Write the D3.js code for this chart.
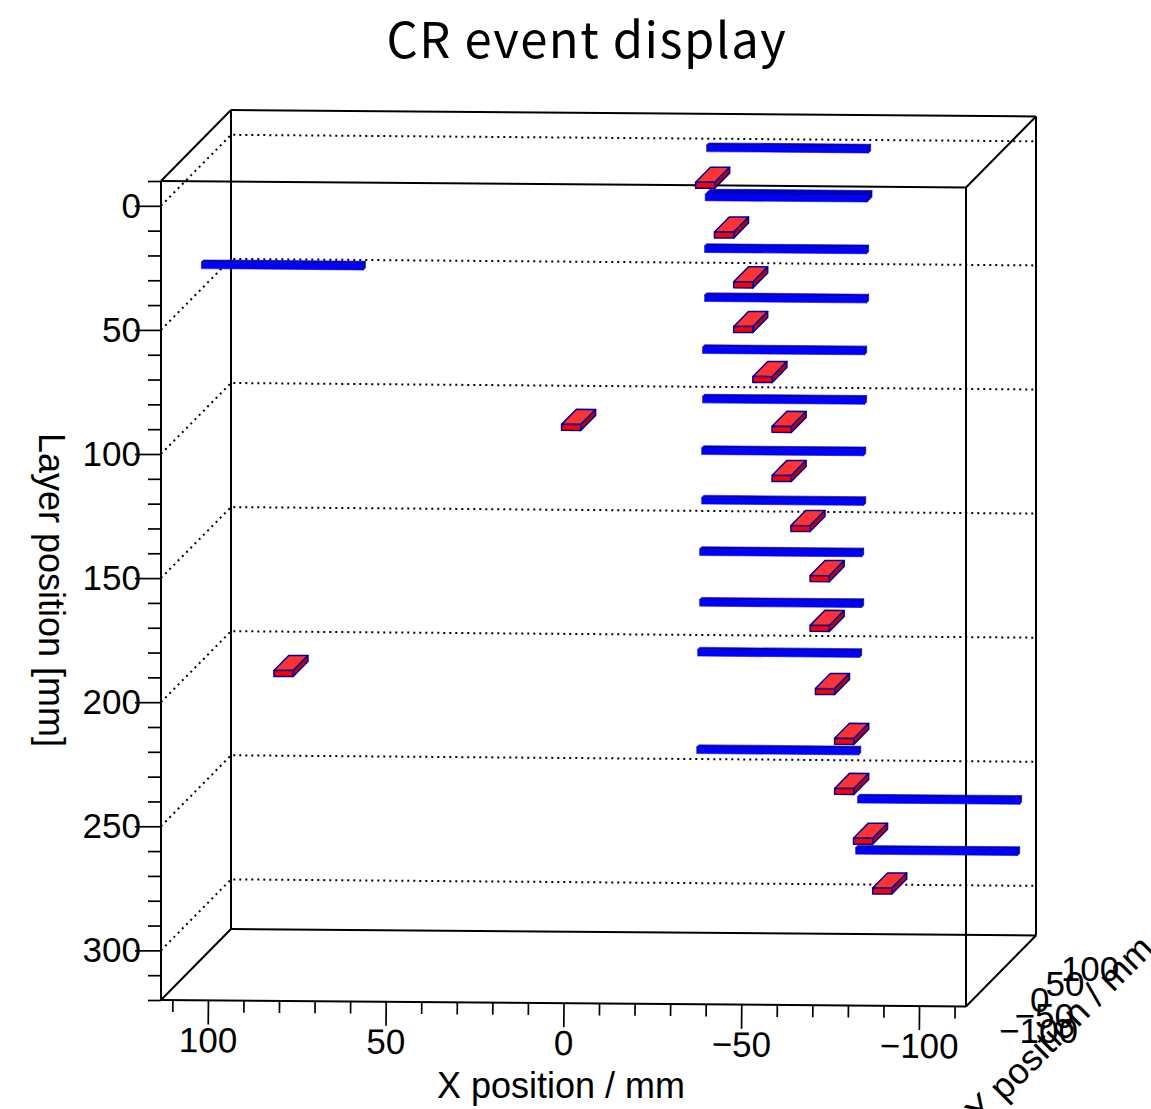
<!DOCTYPE html>
<html>
<head>
<meta charset="utf-8">
<script src="https://cdn.jsdelivr.net/npm/d3@7"></script>
<style>
    body { margin: 0; background: #fff; overflow: hidden; }
    svg { display: block; }
    text { font-family: "Liberation Sans", sans-serif; fill: #000; }
</style>
</head>
<body>
<div class="chart"></div>
<script>
// blue strips (mm)
var blueX = [-46, -46, -46, -46, -46, -46, -46, -46, -46, -46, -46, -46, -92, -92, 92];
var blueY = [86, 86, 79.5, 79.5, 73, 73, 70, 70, 63.5, 63.5, 57, 54, 45.3, 39, 39];
var blueZ = [0, 19.2, 39.8, 59.6, 79.7, 99.6, 120, 140, 159.9, 180.3, 199.6, 238.5, 256.8, 276.6, 42.8];
var blueDepth = [7, 16, 7, 7, 7, 7, 7, 7, 7, 7, 7, 7, 7, 7, 7];

// red strips
var redX = [-26.1, -31.4, -36.8, -36.8, -42.2, -47.6, -47.6, -52.9, -58.3, -58.3, -59.8, -65.2, -65.2, -70.5, -75.9, 11.6, 92.5];
var redY = [69, 69, 69, 69, 69, 69, 69, 69, 69, 69, 69, 69, 69, 69, 69, 69, 69];
var redZ = [10.1, 30.1, 50.1, 68.1, 88.2, 108.2, 128, 148.1, 168.2, 188.3, 213.7, 233.7, 253.9, 273.9, 293.9, 108.1, 208.2];

var xDomain = [113.2, -113.2];
var yDomain = [-113.2, 113.2];
var zDomain = [-10, 320];

var xTicks = [100, 50, 0, -50, -100];
var yTicks = [-100, -50, 0, 50, 100];
var zTicks = [0, 50, 100, 150, 200, 250, 300];

var svgWidth = 1151;
var svgHeight = 1109;

var origin = { x: 161, y: 181 };
var boxWidth = 805;
var boxHeight = 819;
var depthX = 70;
var depthY = -71;
var tiltY = 6.5;

var xScale = d3.scaleLinear().domain(xDomain).range([0, boxWidth]);
var yScale = d3.scaleLinear().domain(yDomain).range([0, 1]);
var zScale = d3.scaleLinear().domain(zDomain).range([0, boxHeight]);

function project(x, y, z) {
    var sx = xScale(x);
    var sy = yScale(y);
    return [
        origin.x + sx + depthX * sy,
        origin.y + sx / boxWidth * tiltY + depthY * sy + zScale(z)
    ];
}

var svg = d3.select(".chart")
    .append("svg")
    .attr("width", svgWidth)
    .attr("height", svgHeight);

// dotted grid on the back and left walls
var grid = svg.append("g");
var xL = xDomain[0], xR = xDomain[1], yF = yDomain[0], yB = yDomain[1], zT = zDomain[0], zB = zDomain[1];

var line = d3.line();

zTicks.forEach(function(z) {
    grid.append("path")
        .attr("d", line([project(xL, yF, z), project(xL, yB, z), project(xR, yB, z)]))
        .attr("fill", "none")
        .attr("stroke", "#000")
        .attr("stroke-width", 2)
        .attr("stroke-dasharray", "2 4");
});

// box frame
var edges = [
    [[xL, yF, zT], [xR, yF, zT]],
    [[xL, yF, zB], [xR, yF, zB]],
    [[xL, yB, zT], [xR, yB, zT]],
    [[xL, yB, zB], [xR, yB, zB]],
    [[xL, yF, zT], [xL, yF, zB]],
    [[xR, yF, zT], [xR, yF, zB]],
    [[xL, yB, zT], [xL, yB, zB]],
    [[xR, yB, zT], [xR, yB, zB]],
    [[xL, yF, zT], [xL, yB, zT]],
    [[xR, yF, zT], [xR, yB, zT]],
    [[xL, yF, zB], [xL, yB, zB]],
    [[xR, yF, zB], [xR, yB, zB]]
];

svg.append("g").selectAll("path")
    .data(edges)
    .enter()
    .append("path")
    .attr("d", function(e) {
        return line(e.map(function(p) { return project(p[0], p[1], p[2]); }));
    })
    .attr("fill", "none")
    .attr("stroke", "#000")
    .attr("stroke-width", 2);

// x axis along the front bottom edge, slightly tilted
var tiltAngle = Math.atan(tiltY / boxWidth) * 180 / Math.PI;
var xOrigin = project(xL, yF, zB);

var xMinor = d3.axisBottom(xScale)
    .tickValues(d3.range(-110, 111, 10).filter(function(d) { return d % 50 !== 0; }))
    .tickSize(12)
    .tickFormat("");
var xMajor = d3.axisBottom(xScale)
    .tickValues(xTicks)
    .tickSize(24)
    .tickPadding(3);

[xMinor, xMajor].forEach(function(axis) {
    svg.append("g")
        .attr("class", "axis")
        .attr("transform", "translate(" + xOrigin[0] + "," + xOrigin[1] + ") rotate(" + tiltAngle + ")")
        .call(axis);
});

// layer axis on the front left edge
var zMinor = d3.axisLeft(zScale)
    .tickValues(d3.range(-10, 321, 10).filter(function(d) { return d % 50 !== 0; }))
    .tickSize(13)
    .tickFormat("");
var zMajor = d3.axisLeft(zScale)
    .tickValues(zTicks)
    .tickSize(26)
    .tickPadding(-6);

[zMinor, zMajor].forEach(function(axis) {
    svg.append("g")
        .attr("class", "axis")
        .attr("transform", "translate(" + origin.x + "," + origin.y + ")")
        .call(axis);
});

svg.selectAll(".axis .domain").remove();
svg.selectAll(".axis line").attr("stroke", "#000").attr("stroke-width", 1.7);
svg.selectAll(".axis text")
    .style("font-family", "'Liberation Sans', sans-serif")
    .style("font-size", "35px")
    .attr("fill", "#000");

// y axis on the bottom right edge: tiny ticks, labels stay horizontal
var yAxis = svg.append("g");

yTicks.forEach(function(t) {
    var p = project(xR, t, zB);
    yAxis.append("line")
        .attr("x1", p[0]).attr("y1", p[1])
        .attr("x2", p[0] + 2.5).attr("y2", p[1] - 3)
        .attr("stroke", "#000")
        .attr("stroke-width", 1.2);
    yAxis.append("text")
        .attr("x", p[0] + 29)
        .attr("y", p[1] + 41)
        .attr("font-size", 35)
        .text(d3.format("d")(t));
});

// boxes
var blueData = blueX.map(function(x, i) {
    return { x: x, y: blueY[i], z: blueZ[i], w: 45.5, d: blueDepth[i], h: 2.6, type: "blue" };
});
var redData = redX.map(function(x, i) {
    return { x: x, y: redY[i], z: redZ[i], w: 5.4, d: 48, h: 2.4, type: "red" };
});

var colors = {
    blue: { front: "#0000ff", top: "#0000c4", side: "#0000a8", edge: "#0000b4", width: 1.1, edgeOpacity: 0.6 },
    red: { front: "#ff0000", top: "#ff3333", side: "#c00000", edge: "#00009b", width: 1.5, edgeOpacity: 1 }
};

function drawBox(g, b) {
    var x0 = b.x + b.w / 2, x1 = b.x - b.w / 2;
    var y0 = b.y - b.d / 2, y1 = b.y + b.d / 2;
    var z0 = b.z - b.h / 2, z1 = b.z + b.h / 2;
    var c = colors[b.type];
    var faces = [
        { fill: c.top, pts: [[x0, y0, z0], [x0, y1, z0], [x1, y1, z0], [x1, y0, z0]] },
        { fill: c.side, pts: [[x1, y0, z0], [x1, y1, z0], [x1, y1, z1], [x1, y0, z1]] },
        { fill: c.front, pts: [[x0, y0, z0], [x1, y0, z0], [x1, y0, z1], [x0, y0, z1]] }
    ];
    g.selectAll("path")
        .data(faces)
        .enter()
        .append("path")
        .attr("d", function(f) {
            return line(f.pts.map(function(p) { return project(p[0], p[1], p[2]); })) + "Z";
        })
        .attr("fill", function(f) { return f.fill; })
        .attr("stroke", c.edge)
        .attr("stroke-opacity", c.edgeOpacity)
        .attr("stroke-width", c.width)
        .attr("stroke-linejoin", "round");
}

svg.append("g").selectAll("g")
    .data(blueData.concat(redData))
    .enter()
    .append("g")
    .each(function(b) { drawBox(d3.select(this), b); });

// titles
svg.append("text")
    .attr("x", 587)
    .attr("y", 58)
    .attr("text-anchor", "middle")
    .style("font-family", "'Noto Sans CJK JP', sans-serif")
    .style("letter-spacing", "1.5px")
    .attr("font-size", 49)
    .text("CR event display");

svg.append("text")
    .attr("x", 561)
    .attr("y", 1098)
    .attr("text-anchor", "middle")
    .attr("font-size", 36)
    .text("X position / mm");

svg.append("text")
    .attr("transform", "translate(39,590) rotate(90)")
    .attr("text-anchor", "middle")
    .attr("font-size", 36)
    .text("Layer position [mm]");

svg.append("text")
    .attr("transform", "translate(1068,1038) rotate(-45)")
    .attr("text-anchor", "middle")
    .attr("font-size", 36)
    .text("Y position / mm");
</script>
</body>
</html>
